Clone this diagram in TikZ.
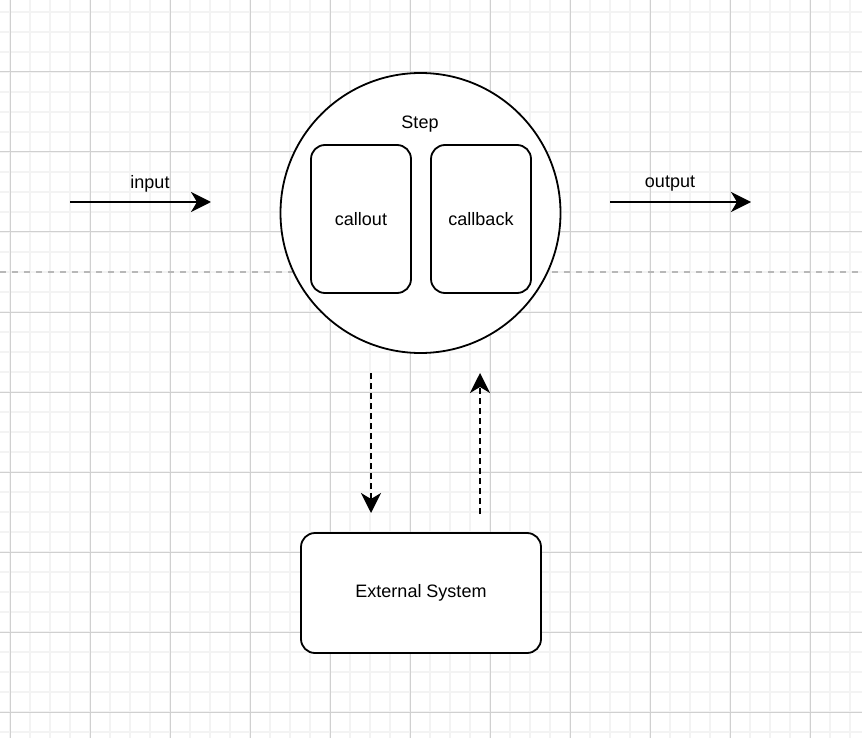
\documentclass[tikz,border=0pt]{standalone}
\usepackage{fontspec}
\setmainfont{Liberation Sans}
\usetikzlibrary{arrows.meta}
\definecolor{minorgrid}{HTML}{F3F3F3}
\definecolor{majorgrid}{HTML}{D0D0D0}
\definecolor{sepline}{HTML}{B8B8B8}
\tikzset{
  lbl/.style={font=\fontsize{18}{21}\selectfont, inner sep=0pt},
  roundbox/.style={draw, line width=1.8pt, rounded corners=14pt, fill=white, font=\fontsize{18}{21}\selectfont},
  flow/.style={line width=2pt, -{Stealth[length=20pt,width=20pt,inset=6pt]}},
  dflow/.style={line width=2pt, dash pattern=on 6pt off 4pt, -{Stealth[length=20pt,width=20pt,inset=6pt]}},
}
\begin{document}
\begin{tikzpicture}[x=1pt,y=-1pt]
\useasboundingbox (0,0) rectangle (862,738);
\fill[white] (0,0) rectangle (862,738);
% minor grid
\foreach \x in {10,30,...,870} \draw[minorgrid, line width=2pt] (\x,0) -- (\x,738);
\foreach \y in {12,32,...,740} \draw[minorgrid, line width=2pt] (0,\y) -- (862,\y);
% major grid
\foreach \x in {10,90,...,870} \draw[majorgrid, line width=1pt] (\x,0) -- (\x,738);
\foreach \y in {72,152,...,740} \draw[majorgrid, line width=1pt] (0,\y) -- (862,\y);
% separator
\draw[sepline, line width=2pt, dash pattern=on 6pt off 6pt] (0,272) -- (862,272);

% step circle
\node[draw, circle, line width=1.8pt, fill=white, minimum size=280pt, inner sep=0pt] (step) at (420.5,213) {};
\node[lbl] (steplbl) at (420,124) {Step};
\node[roundbox, minimum width=100pt, minimum height=148pt] (callout) at (361,219) {callout};
\node[roundbox, minimum width=100pt, minimum height=148pt] (callback) at (481,219) {callback};

% input / output
\coordinate (inS) at (70,202);
\coordinate (inE) at (211,202);
\draw[flow] (inS) -- (inE);
\node[lbl] (inlbl) at (150,184) {input};
\coordinate (outS) at (610,202);
\coordinate (outE) at (751,202);
\draw[flow] (outS) -- (outE);
\node[lbl] (outlbl) at (670,184) {output};

% external system
\node[roundbox, minimum width=240pt, minimum height=120pt] (ext) at (421,593) {External System};

% dashed arrows
\coordinate (dS) at (371,373);
\coordinate (dE) at (371,513);
\draw[dflow] (dS) -- (dE);
\coordinate (uS) at (480,514);
\coordinate (uE) at (480,373);
\draw[dflow] (uS) -- (uE);
\end{tikzpicture}
\end{document}
